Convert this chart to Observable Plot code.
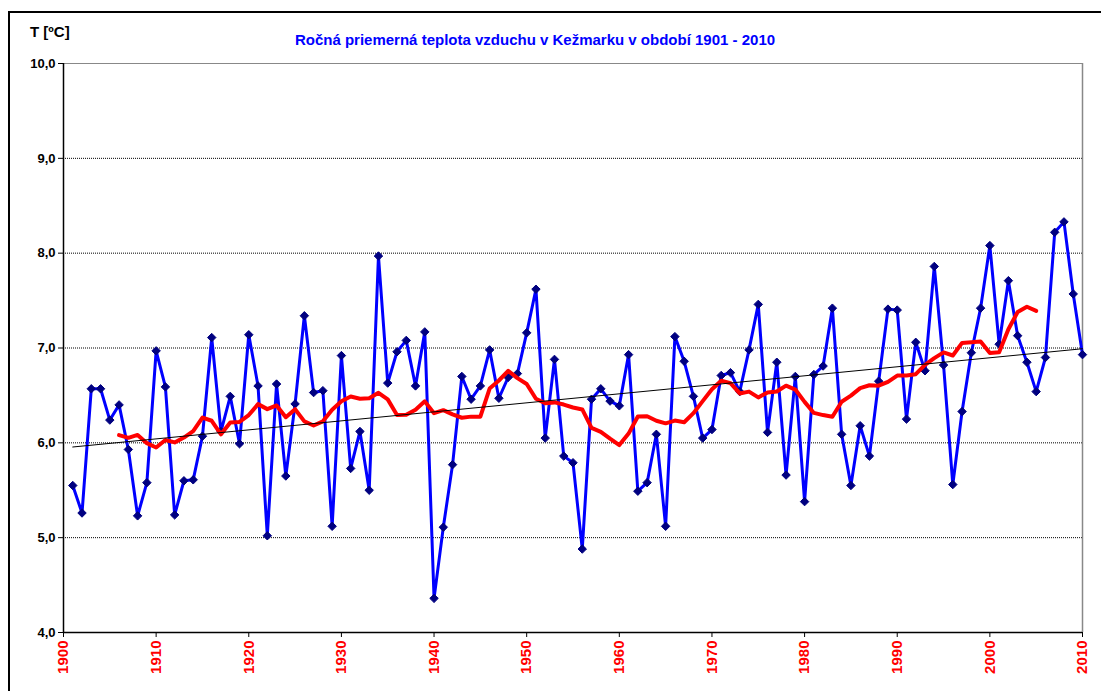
<!DOCTYPE html>
<html><head><meta charset="utf-8">
<script src="https://cdn.jsdelivr.net/npm/d3@7"></script>
<script src="https://cdn.jsdelivr.net/npm/@observablehq/plot@0.6"></script>
<style>
body{margin:0;background:#fff;font-family:"Liberation Sans",Arial,sans-serif;}
#wrap{position:relative;width:1101px;height:691px;overflow:hidden;background:#fff;}
#frame{position:absolute;left:8px;top:11px;width:1200px;height:800px;border:2px solid #000;box-sizing:border-box;}
#title{position:absolute;left:0;width:1070px;top:31px;text-align:center;color:#0000ff;font-weight:bold;font-size:15px;}
#ylab{position:absolute;left:30px;top:23px;font-weight:bold;font-size:15px;color:#000;}
#chart{position:absolute;left:0;top:0;}
</style></head>
<body>
<div id="wrap">
  <div id="frame"></div>
  <div id="chart"></div>
  <div id="ylab">T [ºC]</div>
  <div id="title">Ročná priemerná teplota vzduchu v Kežmarku v období 1901 - 2010</div>
</div>
<script>
const years = [1901,1902,1903,1904,1905,1906,1907,1908,1909,1910,
1911,1912,1913,1914,1915,1916,1917,1918,1919,1920,
1921,1922,1923,1924,1925,1926,1927,1928,1929,1930,
1931,1932,1933,1934,1935,1936,1937,1938,1939,1940,
1941,1942,1943,1944,1945,1946,1947,1948,1949,1950,
1951,1952,1953,1954,1955,1956,1957,1958,1959,1960,
1961,1962,1963,1964,1965,1966,1967,1968,1969,1970,
1971,1972,1973,1974,1975,1976,1977,1978,1979,1980,
1981,1982,1983,1984,1985,1986,1987,1988,1989,1990,
1991,1992,1993,1994,1995,1996,1997,1998,1999,2000,
2001,2002,2003,2004,2005,2006,2007,2008,2009,2010];
const temps = [5.55,5.26,6.57,6.57,6.24,6.40,5.93,5.23,5.58,6.97,
6.59,5.24,5.60,5.61,6.07,7.11,6.12,6.49,5.99,7.14,
6.60,5.02,6.62,5.65,6.41,7.34,6.53,6.55,5.12,6.92,
5.73,6.12,5.50,7.97,6.63,6.96,7.08,6.60,7.17,4.36,
5.11,5.77,6.70,6.46,6.60,6.98,6.47,6.69,6.73,7.16,
7.62,6.05,6.88,5.86,5.79,4.88,6.46,6.57,6.44,6.39,
6.93,5.49,5.58,6.09,5.12,7.12,6.86,6.49,6.05,6.14,
6.71,6.74,6.54,6.98,7.46,6.11,6.85,5.66,6.70,5.38,
6.72,6.81,7.42,6.09,5.55,6.18,5.86,6.65,7.41,7.40,
6.25,7.06,6.76,7.86,6.82,5.56,6.33,6.95,7.42,8.08,
7.04,7.71,7.13,6.85,6.54,6.90,8.22,8.33,7.57,6.93];
const yTicks = [4,5,6,7,8,9,10];
const xTicks = [1900,1910,1920,1930,1940,1950,1960,1970,1980,1990,2000,2010];
const movingWindow = 11;

const rows = years.map((year, i) => ({year, t: temps[i]}));
const fmtY = d => d.toFixed(1).replace(".", ",");

const chart = Plot.plot({
  width: 1101,
  height: 691,
  marginLeft: 63,
  marginRight: 19,
  marginTop: 63,
  marginBottom: 59,
  style: {fontFamily: "'Liberation Sans', Arial, sans-serif", background: "transparent"},
  x: {domain: [1900, 2010]},
  y: {domain: [4, 10]},
  marks: [
    Plot.gridY([5,6,7,8,9], {stroke: "#000", strokeOpacity: 1, strokeDasharray: "1,1"}),
    Plot.ruleY([10], {stroke: "#888", strokeWidth: 1}),
    Plot.ruleX([2010], {stroke: "#888", strokeWidth: 1.5}),
    Plot.lineY(rows, {x: "year", y: "t", stroke: "#0000ff", strokeWidth: 3}),
    Plot.dot(rows, {x: "year", y: "t", symbol: "diamond2", fill: "#000080", stroke: "#000080", strokeWidth: 1, r: 3.8}),
    Plot.lineY(rows, Plot.windowY({k: movingWindow, anchor: "middle", strict: true}, {x: "year", y: "t", stroke: "#ff0000", strokeWidth: 4})),
    Plot.linearRegressionY(rows, {x: "year", y: "t", stroke: "#000", strokeWidth: 1, ci: 0}),
    Plot.ruleX([1900], {stroke: "#000", strokeWidth: 1.5}),
    Plot.ruleY([4], {stroke: "#000", strokeWidth: 1.5}),
    Plot.axisY(yTicks, {tickFormat: fmtY, tickSize: 5, tickPadding: 3, fontSize: 13, fontWeight: "bold", fill: "#000", stroke: "#000", label: null}),
    Plot.axisX(xTicks, {tickFormat: d => String(d), tickRotate: -90, tickSize: 5, tickPadding: 3, fontSize: 15, fontWeight: "bold", fill: "#ff0000", stroke: "#000", label: null})
  ]
});
document.getElementById("chart").appendChild(chart);
</script>
</body></html>
